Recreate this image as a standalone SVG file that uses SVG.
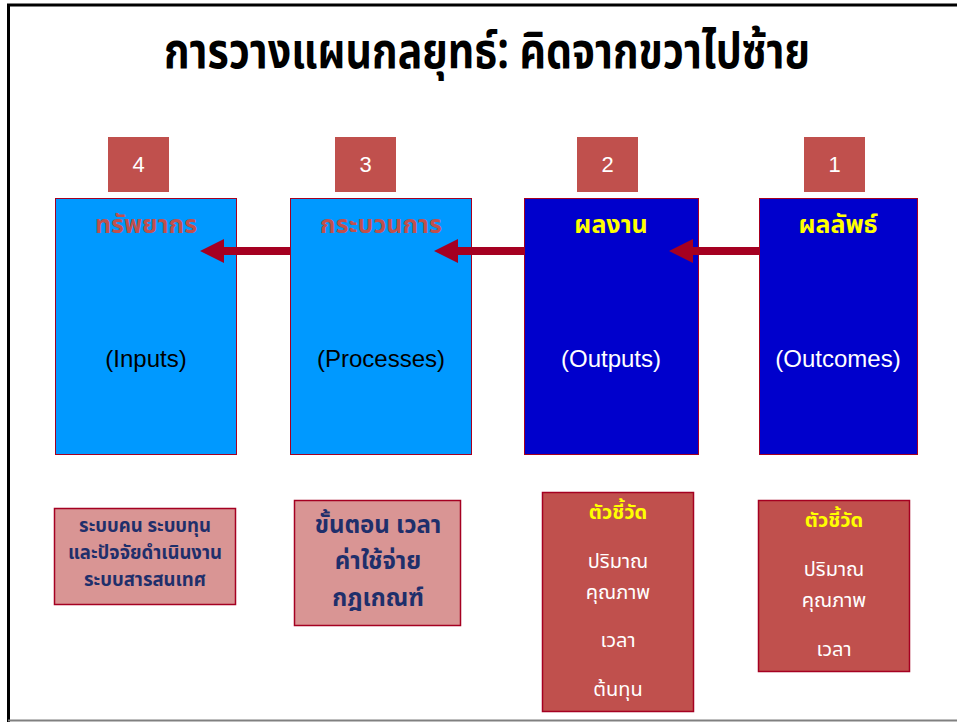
<svg xmlns="http://www.w3.org/2000/svg" width="957" height="722" viewBox="0 0 957 722">
<defs>
<style>
.th{font-family:"Noto Sans Thai","Noto Sans","DejaVu Sans",sans-serif;}
.en{font-family:"Liberation Sans",Arial,sans-serif;}
.num{font-family:"Liberation Sans",Arial,sans-serif;font-size:22px;fill:#ffffff;text-anchor:middle;}
.sq{fill:#C0504D;}
.lb{fill:#0099FF;stroke:#A50021;stroke-width:1;}
.db{fill:#0000CC;stroke:#A50021;stroke-width:1;}
.pk{fill:#D99594;stroke:#A50021;stroke-width:1.5;}
.rd{fill:#C0504D;stroke:#A50021;stroke-width:1.5;}
.conn{stroke:#A50021;stroke-width:8;fill:none;}
.mid{text-anchor:middle;}
.hd{font-size:25px;font-weight:bold;}
.sub{font-size:24px;}
.nv{fill:#1F2F6B;font-weight:bold;}
.wt{fill:#ffffff;font-size:20px;}
.yl{fill:#FFFF00;font-size:20px;font-weight:bold;}
</style>
</defs>
<rect x="0" y="0" width="957" height="722" fill="#ffffff"/>
<path d="M8.5,722 V5 H957" fill="none" stroke="#000" stroke-width="3"/>
<line x1="8" y1="720.5" x2="957" y2="720.5" stroke="#808080" stroke-width="2"/>
<text class="th mid" x="487" y="68" font-size="50" font-weight="bold" fill="#000" textLength="646" lengthAdjust="spacingAndGlyphs">การวางแผนกลยุทธ์: คิดจากขวาไปซ้าย</text>

<g id="node-inputs">
<rect class="sq" x="108" y="137" width="61" height="55"/>
<text class="num" x="138.5" y="172">4</text>
<rect class="lb" x="55.5" y="198.5" width="181" height="256"/>
<text class="th mid hd" x="146" y="233" fill="#C0504D">ทรัพยากร</text>
<text class="en mid sub" x="146" y="367" fill="#000">(Inputs)</text>
</g>
<g id="node-processes">
<rect class="sq" x="335" y="137" width="61" height="55"/>
<text class="num" x="365.5" y="172">3</text>
<rect class="lb" x="290.5" y="198.5" width="181" height="256"/>
<text class="th mid hd" x="381" y="233" fill="#C0504D">กระบวนการ</text>
<text class="en mid sub" x="381" y="367" fill="#000">(Processes)</text>
</g>
<g id="node-outputs">
<rect class="sq" x="577" y="137" width="61" height="55"/>
<text class="num" x="607.5" y="172">2</text>
<rect class="db" x="524.5" y="198.5" width="174" height="256"/>
<text class="th mid hd" x="611" y="233" fill="#FFFF00">ผลงาน</text>
<text class="en mid sub" x="611" y="367" fill="#fff">(Outputs)</text>
</g>
<g id="node-outcomes">
<rect class="sq" x="804" y="137" width="61" height="55"/>
<text class="num" x="834.5" y="172">1</text>
<rect class="db" x="759.5" y="198.5" width="158" height="256"/>
<text class="th mid hd" x="838" y="233" fill="#FFFF00">ผลลัพธ์</text>
<text class="en mid sub" x="838" y="367" fill="#fff">(Outcomes)</text>
</g>

<g id="connectors">
<line class="conn" x1="290" y1="251" x2="224" y2="251"/>
<path d="M224,239 L200,251 L224,263 Z" fill="#A50021"/>
<line class="conn" x1="524" y1="251" x2="458" y2="251"/>
<path d="M458,239 L434,251 L458,263 Z" fill="#A50021"/>
<line class="conn" x1="759" y1="251" x2="693" y2="251"/>
<path d="M693,239 L669,251 L693,263 Z" fill="#A50021"/>
</g>

<g id="note-inputs">
<rect class="pk" x="54.5" y="508.5" width="181" height="96"/>
<text class="th mid nv" x="145" y="532" font-size="18.5">ระบบคน ระบบทุน</text>
<text class="th mid nv" x="145" y="559" font-size="18.5">และปัจจัยดำเนินงาน</text>
<text class="th mid nv" x="145" y="586" font-size="18.5">ระบบสารสนเทศ</text>
</g>
<g id="note-processes">
<rect class="pk" x="294.5" y="500.5" width="166" height="125"/>
<text class="th mid nv" x="378" y="533" font-size="24">ขั้นตอน เวลา</text>
<text class="th mid nv" x="378" y="569" font-size="24">ค่าใช้จ่าย</text>
<text class="th mid nv" x="378" y="606" font-size="24">กฎเกณฑ์</text>
</g>
<g id="note-outputs">
<rect class="rd" x="542.5" y="492.5" width="151" height="219"/>
<text class="th mid yl" x="618" y="519">ตัวชี้วัด</text>
<text class="th mid wt" x="618" y="568">ปริมาณ</text>
<text class="th mid wt" x="618" y="599">คุณภาพ</text>
<text class="th mid wt" x="618" y="647">เวลา</text>
<text class="th mid wt" x="618" y="696">ต้นทุน</text>
</g>
<g id="note-outcomes">
<rect class="rd" x="758.5" y="500.5" width="151" height="171"/>
<text class="th mid yl" x="834" y="527">ตัวชี้วัด</text>
<text class="th mid wt" x="834" y="576">ปริมาณ</text>
<text class="th mid wt" x="834" y="607">คุณภาพ</text>
<text class="th mid wt" x="834" y="656">เวลา</text>
</g>
</svg>
